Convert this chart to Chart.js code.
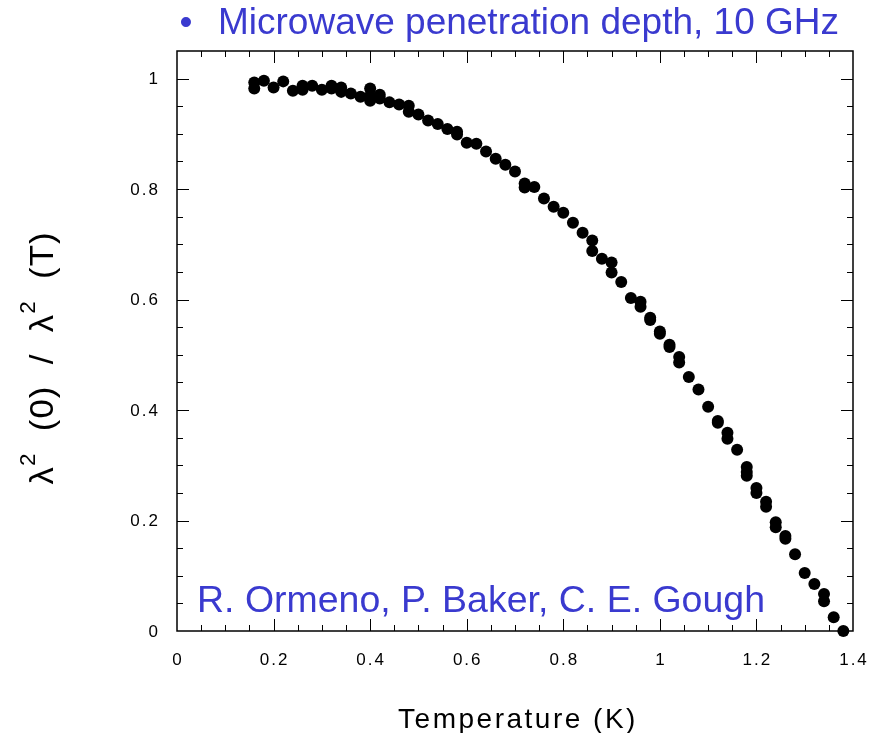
<!DOCTYPE html>
<html>
<head>
<meta charset="utf-8">
<title>Microwave penetration depth</title>
<script src="https://cdn.jsdelivr.net/npm/chart.js@4/dist/chart.umd.min.js"></script>
<style>
  html, body { margin: 0; padding: 0; background: #fff; }
  #wrap { width: 875px; height: 733px; }
</style>
</head>
<body>
<div id="wrap"><canvas id="chart" width="875" height="733"></canvas></div>
<script>
// data: temperature (K) and lambda^2(0)/lambda^2(T)
const temperature = [
  0.16, 0.16, 0.18, 0.20, 0.22, 0.24, 0.26, 0.26, 0.28, 0.30,
  0.32, 0.32, 0.34, 0.34, 0.36, 0.38, 0.40, 0.40, 0.40, 0.42,
  0.42, 0.44, 0.46, 0.48, 0.48, 0.50, 0.52, 0.54, 0.56, 0.58,
  0.58, 0.60, 0.62, 0.64, 0.66, 0.68, 0.70, 0.72, 0.72, 0.74,
  0.76, 0.78, 0.80, 0.82, 0.84, 0.86, 0.86, 0.88, 0.90, 0.90,
  0.92, 0.94, 0.96, 0.96, 0.98, 0.98, 1.00, 1.00, 1.02, 1.02,
  1.04, 1.04, 1.06, 1.08, 1.10, 1.12, 1.12, 1.14, 1.14, 1.16,
  1.18, 1.18, 1.18, 1.20, 1.20, 1.22, 1.22, 1.24, 1.24, 1.26,
  1.26, 1.28, 1.30, 1.32, 1.34, 1.34, 1.36, 1.38
];
const ratio = [
  0.993, 0.982, 0.996, 0.984, 0.995, 0.978, 0.987, 0.980, 0.987, 0.980,
  0.987, 0.982, 0.984, 0.976, 0.973, 0.967, 0.982, 0.969, 0.960, 0.971,
  0.964, 0.957, 0.953, 0.951, 0.940, 0.935, 0.924, 0.918, 0.909, 0.904,
  0.899, 0.884, 0.882, 0.868, 0.855, 0.844, 0.832, 0.810, 0.803, 0.804,
  0.783, 0.768, 0.757, 0.739, 0.721, 0.707, 0.688, 0.674, 0.667, 0.649,
  0.632, 0.603, 0.596, 0.587, 0.567, 0.563, 0.542, 0.538, 0.518, 0.514,
  0.496, 0.486, 0.460, 0.437, 0.406, 0.380, 0.377, 0.359, 0.348, 0.328,
  0.297, 0.288, 0.281, 0.259, 0.250, 0.234, 0.225, 0.197, 0.188, 0.172,
  0.167, 0.139, 0.105, 0.085, 0.067, 0.054, 0.025, 0.000
];

const xTicks = [0, 0.2, 0.4, 0.6, 0.8, 1, 1.2, 1.4];
const xTickLabels = ['0', '0.2', '0.4', '0.6', '0.8', '1', '1.2', '1.4'];
const yTicks = [0, 0.2, 0.4, 0.6, 0.8, 1];
const yTickLabels = ['0', '0.2', '0.4', '0.6', '0.8', '1'];

const titleText = 'Microwave penetration depth, 10 GHz';
const creditText = 'R. Ormeno, P. Baker, C. E. Gough';
const xAxisTitle = 'Temperature (K)';

const BLUE = '#3a3acf';
const FONT = '"Liberation Sans", Arial, sans-serif';

// draw text squeezed/stretched to a given width
function fitText(ctx, text, x, y, width, font) {
  ctx.font = font;
  const w = ctx.measureText(text).width;
  ctx.save();
  ctx.translate(x, y);
  ctx.scale(width / w, 1);
  ctx.textAlign = 'left';
  ctx.fillText(text, 0, 0);
  ctx.restore();
}

// frame, inward ticks and all the text
const framePlugin = {
  id: 'frame',
  beforeDatasetsDraw(chart) {
    const ctx = chart.ctx;
    const { left, right, top, bottom } = chart.chartArea;
    const xs = chart.scales.x, ys = chart.scales.y;
    ctx.save();
    ctx.strokeStyle = '#000';
    ctx.lineWidth = 1.5;
    ctx.strokeRect(left, top, right - left, bottom - top);

    ctx.lineWidth = 1;
    ctx.beginPath();
    for (let i = 1; i < 28; i++) {
      const v = i * 0.05;
      const px = Math.round(xs.getPixelForValue(v)) + 0.5;
      const len = (i % 4 === 0) ? 12 : 6;
      ctx.moveTo(px, bottom); ctx.lineTo(px, bottom - len);
      ctx.moveTo(px, top); ctx.lineTo(px, top + len);
    }
    for (let i = 1; i <= 20; i++) {
      const v = i * 0.05;
      const py = Math.round(ys.getPixelForValue(v)) + 0.5;
      const len = (i % 4 === 0) ? 12 : 6;
      ctx.moveTo(left, py); ctx.lineTo(left + len, py);
      ctx.moveTo(right, py); ctx.lineTo(right - len, py);
    }
    ctx.stroke();
    ctx.restore();
  },
  afterDraw(chart) {
    const ctx = chart.ctx;
    const { left, right, bottom } = chart.chartArea;
    const xs = chart.scales.x, ys = chart.scales.y;
    ctx.save();
    ctx.fillStyle = '#000';
    ctx.font = '17px ' + FONT;
    ctx.letterSpacing = '2px';

    // tick labels
    ctx.textBaseline = 'middle';
    ctx.textAlign = 'center';
    xTicks.forEach((v, i) => {
      ctx.fillText(xTickLabels[i], xs.getPixelForValue(v) + 1, bottom + 29);
    });
    ctx.textAlign = 'right';
    yTicks.forEach((v, i) => {
      ctx.fillText(yTickLabels[i], left - 17, ys.getPixelForValue(v) + 1);
    });

    // x axis title
    ctx.font = '28px ' + FONT;
    ctx.letterSpacing = '2.5px';
    ctx.textAlign = 'center';
    ctx.textBaseline = 'alphabetic';
    ctx.fillText(xAxisTitle, (left + right) / 2 + 3, 728);

    // y axis title: lambda^2 (0) / lambda^2 (T)
    const pieces = [
      { t: '\u03bb', sup: false },
      { t: '2', sup: true },
      { t: '  (0)  /  ', sup: false },
      { t: '\u03bb', sup: false },
      { t: '2', sup: true },
      { t: '  (T)', sup: false }
    ];
    const mainFont = '34px ' + FONT, supFont = '22px ' + FONT;
    ctx.letterSpacing = '1px';
    let total = 0;
    pieces.forEach(p => {
      ctx.font = p.sup ? supFont : mainFont;
      p.w = ctx.measureText(p.t).width;
      total += p.w;
    });
    const span = 253;
    ctx.translate(53, 358);
    ctx.rotate(-Math.PI / 2);
    ctx.scale(span / total, 1);
    let u = -total / 2;
    ctx.textAlign = 'left';
    pieces.forEach(p => {
      ctx.font = p.sup ? supFont : mainFont;
      ctx.fillText(p.t, u, p.sup ? -18 : 0);
      u += p.w;
    });
    ctx.setTransform(1, 0, 0, 1, 0, 0);
    ctx.letterSpacing = '0px';

    // blue title and credit
    ctx.fillStyle = BLUE;
    ctx.textBaseline = 'alphabetic';
    ctx.font = '37px ' + FONT;
    ctx.textAlign = 'center';
    ctx.fillText('\u2022', 186, 34);
    fitText(ctx, titleText, 218, 34, 621, '37px ' + FONT);
    fitText(ctx, creditText, 197, 612, 568, '37px ' + FONT);
    ctx.restore();
  }
};

new Chart(document.getElementById('chart'), {
  type: 'scatter',
  data: {
    datasets: [{
      data: temperature.map((t, i) => ({ x: t, y: ratio[i] })),
      backgroundColor: '#000',
      borderWidth: 0,
      pointRadius: 6,
      pointHoverRadius: 6,
      clip: false
    }]
  },
  options: {
    responsive: false,
    animation: false,
    devicePixelRatio: 1,
    layout: { padding: { left: 177, right: 22, top: 51, bottom: 102 } },
    scales: {
      x: { type: 'linear', min: 0, max: 1.4, display: false },
      y: { type: 'linear', min: 0, max: 1.05, display: false }
    },
    plugins: {
      legend: { display: false },
      tooltip: { enabled: false }
    },
    events: []
  },
  plugins: [framePlugin]
});
</script>
</body>
</html>
